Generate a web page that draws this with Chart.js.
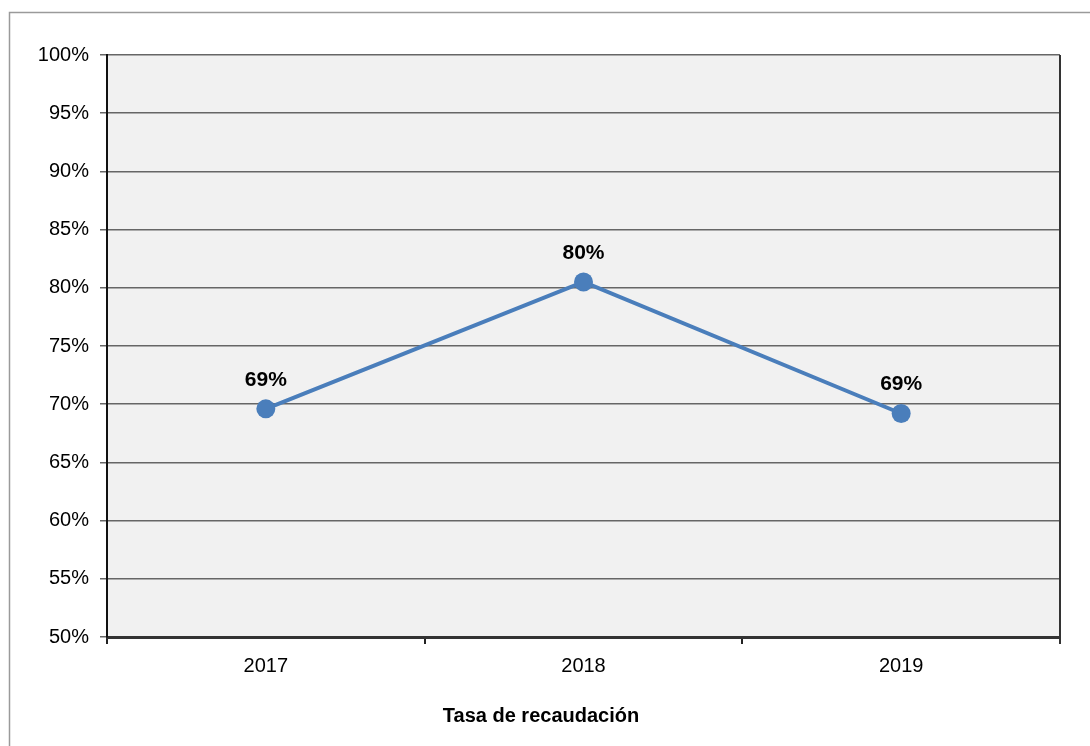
<!DOCTYPE html>
<html>
<head>
<meta charset="utf-8">
<script src="https://cdn.jsdelivr.net/npm/chart.js@4"></script>
<style>
  html, body { margin: 0; padding: 0; background: #fff; }
  canvas { display: block; }
</style>
</head>
<body>
<canvas id="tasaChart" width="1090" height="746"></canvas>
<script>
const years = ['2017', '2018', '2019'];
const tasa = [69.6, 80.5, 69.2];
const etiquetas = ['69%', '80%', '69%'];

const fuente = "'Liberation Sans', Arial, sans-serif";

// fondo gris del area de trazado y marco exterior
const fondo = {
  id: 'fondo',
  beforeDraw(chart) {
    const { ctx, chartArea: a } = chart;
    ctx.save();
    ctx.strokeStyle = '#9a9a9a';
    ctx.lineWidth = 1.5;
    ctx.strokeRect(9.5, 12.5, 1300, 1300);
    ctx.fillStyle = '#f1f1f1';
    ctx.fillRect(a.left, a.top, a.right - a.left, a.bottom - a.top);
    ctx.restore();
  },
  beforeDatasetsDraw(chart) {
    const { ctx, chartArea: a } = chart;
    ctx.save();
    ctx.strokeStyle = '#333';
    ctx.lineWidth = 2;
    ctx.beginPath();
    ctx.moveTo(a.right, a.top);
    ctx.lineTo(a.right, a.bottom + 7);
    ctx.stroke();
    ctx.restore();
  }
};

// etiquetas de valor sobre cada punto
const etiquetasPuntos = {
  id: 'etiquetasPuntos',
  afterDatasetsDraw(chart) {
    const { ctx } = chart;
    const meta = chart.getDatasetMeta(0);
    ctx.save();
    ctx.font = 'bold 21px ' + fuente;
    ctx.fillStyle = '#000';
    ctx.textAlign = 'center';
    ctx.textBaseline = 'middle';
    meta.data.forEach((pt, i) => {
      ctx.fillText(etiquetas[i], pt.x, pt.y - 29);
    });
    ctx.restore();
  }
};

new Chart(document.getElementById('tasaChart').getContext('2d'), {
  type: 'line',
  data: {
    labels: years,
    datasets: [{
      data: tasa,
      borderColor: '#4a7ebb',
      backgroundColor: '#4a7ebb',
      borderWidth: 4,
      pointRadius: 9.5,
      pointHoverRadius: 9.5,
      pointBorderWidth: 0,
      tension: 0
    }]
  },
  options: {
    responsive: false,
    animation: false,
    layout: { padding: { left: 0, top: 55, right: 8, bottom: 0 } },
    plugins: {
      legend: { display: false },
      tooltip: { enabled: false },
      title: {
        display: true,
        position: 'bottom',
        text: 'Tasa de recaudación',
        color: '#000',
        font: { family: fuente, size: 20, weight: 'bold' },
        padding: { top: 10, bottom: 18 }
      }
    },
    scales: {
      x: {
        offset: true,
        afterFit: s => { s.height = 57; },
        grid: {
          offset: true,
          drawOnChartArea: false,
          drawTicks: true,
          tickLength: 7,
          color: '#222',
          lineWidth: 2
        },
        border: { color: '#333', width: 3 },
        ticks: {
          color: '#000',
          padding: 10,
          font: { family: fuente, size: 20 }
        }
      },
      y: {
        min: 50,
        max: 100,
        afterFit: s => { s.width = 107; },
        grid: {
          color: '#666',
          lineWidth: 1.5,
          tickLength: 7
        },
        border: { color: '#111', width: 2 },
        ticks: {
          stepSize: 5,
          color: '#000',
          padding: 11,
          font: { family: fuente, size: 20 },
          callback: v => v + '%'
        }
      },
      // eje vacio a la derecha, solo reserva margen
      margen: {
        position: 'right',
        min: 50,
        max: 100,
        afterFit: s => { s.width = 22; },
        grid: { display: false },
        border: { display: false },
        ticks: { display: false }
      }
    }
  },
  plugins: [fondo, etiquetasPuntos]
});
</script>
</body>
</html>
